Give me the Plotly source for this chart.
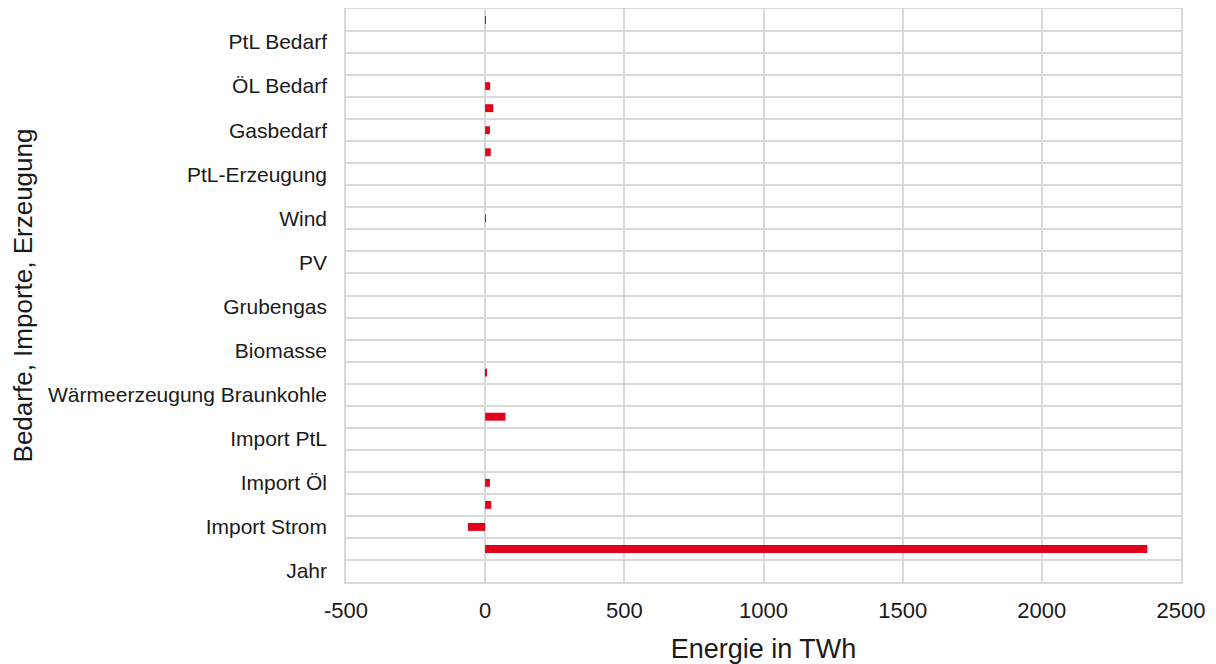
import plotly.graph_objects as go

# Categories from bottom to top (only every other one carries a visible label)
categories = [
    "Jahr", "ohne Beschriftung 1", "Import Strom", "ohne Beschriftung 2",
    "Import Öl", "ohne Beschriftung 3", "Import PtL", "ohne Beschriftung 4",
    "Wärmeerzeugung Braunkohle", "ohne Beschriftung 5", "Biomasse", "ohne Beschriftung 6",
    "Grubengas", "ohne Beschriftung 7", "PV", "ohne Beschriftung 8",
    "Wind", "ohne Beschriftung 9", "PtL-Erzeugung", "ohne Beschriftung 10",
    "Gasbedarf", "ohne Beschriftung 11", "ÖL Bedarf", "ohne Beschriftung 12",
    "PtL Bedarf", "ohne Beschriftung 13",
]
tick_labels = [c if not c.startswith("ohne Beschriftung") else "" for c in categories]

# Energy values in TWh (same order as categories)
values = [
    0, 2379, -62, 22,
    17, 0, 0, 73,
    0, 5, 0, 0,
    0, 0, 0, 0,
    1, 0, 0, 20,
    17, 29, 18, 0,
    0, 1,
]

x_ticks = [-500, 0, 500, 1000, 1500, 2000, 2500]

grid = "#d9d9d9"
font_family = "Liberation Sans, Arial, sans-serif"

fig = go.Figure(
    go.Bar(
        x=values,
        y=categories,
        orientation="h",
        marker=dict(color="#e2001a", line=dict(width=0)),
    )
)

fig.update_layout(
    width=1208,
    height=656,
    margin=dict(l=338, r=35, t=1, b=82),
    paper_bgcolor="white",
    plot_bgcolor="white",
    bargap=0.64,
    showlegend=False,
    font=dict(family=font_family, color="#1a1a1a", size=22),
    xaxis=dict(
        range=[-500, 2500],
        tickvals=x_ticks,
        ticktext=[str(v) for v in x_ticks],
        showgrid=True,
        gridcolor=grid,
        gridwidth=1.5,
        zeroline=False,
        showline=True,
        linecolor=grid,
        linewidth=1.5,
        mirror=True,
        ticks="outside",
        ticklen=0,
        ticklabelstandoff=8,
        tickfont=dict(size=22),
        automargin=False,
        title=dict(text="Energie in TWh", font=dict(size=27), standoff=18),
    ),
    yaxis=dict(
        type="category",
        categoryorder="array",
        categoryarray=categories,
        tickvals=categories,
        ticktext=tick_labels,
        tickson="boundaries",
        showgrid=True,
        gridcolor=grid,
        gridwidth=1.5,
        showline=True,
        linecolor=grid,
        linewidth=1.5,
        mirror=True,
        ticks="outside",
        ticklen=0,
        ticklabelstandoff=13,
        tickfont=dict(size=21),
        automargin=False,
        title=dict(text="Bedarfe, Importe, Erzeugung", font=dict(size=26), standoff=14),
    ),
)

fig.write_html("out.html")
